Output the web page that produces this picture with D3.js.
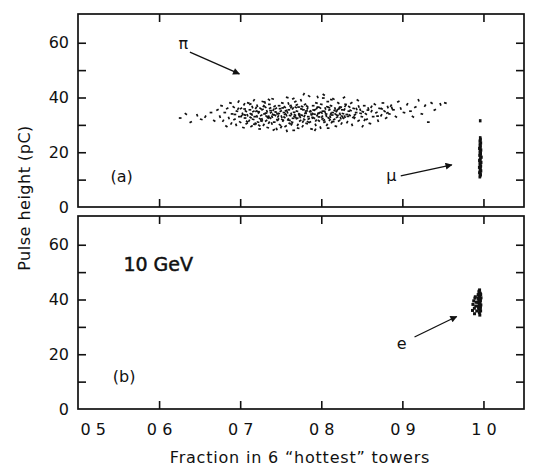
<!DOCTYPE html>
<html>
<head>
<meta charset="utf-8">
<script src="https://cdn.jsdelivr.net/npm/d3@7"></script>
<style>
  html, body { margin: 0; padding: 0; background: #fff; }
  svg { display: block; }
  text { font-family: "DejaVu Sans", sans-serif; fill: #111; }
</style>
</head>
<body>
<script>
// ---------------- data ----------------
const xTicks = [0.5, 0.6, 0.7, 0.8, 0.9, 1.0];
const xTickLabels = ["0 5", "0 6", "0 7", "0 8", "0 9", "1 0"];
const yTicks = [0, 10, 20, 30, 40, 50, 60];
const yTickLabels = ["0", "", "20", "", "40", "", "60"];
const xTitle = "Fraction in 6 “hottest” towers";
const yTitle = "Pulse height (pC)";

// panel (a): pions (fraction, pulse height pC)
const pionPoints = [
  [0.626,32.5],[0.633,34.0],[0.639,31.0],[0.647,33.5],[0.652,32.0],[0.657,33.0],[0.664,34.5],[0.668,31.5],
  [0.672,35.5],[0.675,33.0],[0.677,37.0],[0.679,31.5],[0.681,34.5],[0.683,29.5],[0.684,36.0],[0.686,32.5],[0.688,38.0],[0.689,30.5],[0.690,34.0],
  [0.692,36.5],[0.693,32.0],[0.695,30.0],[0.696,35.0],[0.698,38.5],[0.699,33.0],[0.700,31.0],[0.701,36.0],[0.703,34.0],[0.704,29.0],[0.705,37.5],[0.706,32.5],[0.707,35.0],[0.708,30.5],[0.709,33.5],[0.710,38.0],
  [0.711,31.5],[0.712,35.5],[0.713,34.0],[0.714,29.5],[0.715,36.5],[0.716,32.0],[0.717,39.0],[0.718,33.0],[0.719,30.5],[0.720,35.0],[0.721,37.0],[0.722,31.0],[0.723,34.5],[0.724,28.5],[0.725,36.0],[0.726,33.5],[0.727,32.0],[0.728,38.5],[0.729,30.0],[0.730,34.0],
  [0.731,36.5],[0.732,31.5],[0.733,35.0],[0.734,29.0],[0.735,33.0],[0.736,37.5],[0.737,32.5],[0.738,34.5],[0.739,30.5],[0.740,39.5],[0.741,35.5],[0.742,31.0],[0.743,33.5],[0.744,36.0],[0.745,28.5],[0.746,34.0],[0.747,32.0],[0.748,37.0],[0.749,30.0],[0.750,35.0],
  [0.751,33.0],[0.752,38.0],[0.753,31.5],[0.754,34.5],[0.755,36.5],[0.756,29.5],[0.757,33.5],[0.758,40.0],[0.759,32.0],[0.760,35.5],[0.761,30.5],[0.762,37.0],[0.763,34.0],[0.764,31.0],[0.765,36.0],[0.766,28.0],[0.767,33.0],[0.768,38.5],[0.769,32.5],[0.770,35.0],
  [0.771,30.0],[0.772,36.5],[0.773,34.0],[0.774,31.5],[0.775,39.0],[0.776,33.5],[0.777,29.5],[0.778,35.5],[0.779,32.0],[0.780,37.5],[0.781,34.5],[0.782,30.5],[0.783,36.0],[0.784,33.0],[0.785,40.5],[0.786,31.0],[0.787,35.0],[0.788,28.5],[0.789,34.0],[0.790,37.0],
  [0.791,32.5],[0.792,35.5],[0.793,30.0],[0.794,38.0],[0.795,33.5],[0.796,36.5],[0.797,31.5],[0.798,34.5],[0.799,29.0],[0.800,37.5],[0.801,33.0],[0.802,35.0],[0.803,41.0],[0.804,31.0],[0.805,36.0],[0.806,34.0],[0.807,30.0],[0.808,38.5],[0.809,32.5],[0.810,35.5],
  [0.811,33.0],[0.812,37.0],[0.813,31.0],[0.814,34.5],[0.815,39.5],[0.816,32.0],[0.817,36.0],[0.818,29.5],[0.819,35.0],[0.820,33.5],[0.821,38.0],[0.822,31.5],[0.823,34.0],[0.824,36.5],[0.825,30.5],[0.826,35.5],[0.827,32.5],[0.828,40.0],[0.829,33.0],[0.830,37.5],
  [0.832,31.0],[0.834,35.0],[0.835,33.5],[0.837,38.0],[0.838,30.0],[0.840,36.0],[0.841,32.5],[0.843,34.5],[0.845,39.0],[0.846,31.5],[0.848,35.5],[0.850,33.0],[0.851,29.5],[0.853,37.0],[0.855,34.0],[0.856,32.0],[0.858,36.0],[0.860,30.5],
  [0.862,35.0],[0.864,33.0],[0.866,37.5],[0.868,34.5],[0.870,31.5],[0.872,36.0],[0.874,33.5],[0.876,38.0],[0.878,35.0],[0.880,32.5],[0.882,36.5],[0.884,34.0],[0.886,37.0],[0.889,35.5],[0.892,33.0],[0.895,38.5],[0.898,36.0],
  [0.902,34.5],[0.906,37.5],[0.910,35.0],[0.913,33.0],[0.916,36.5],[0.920,39.0],[0.924,34.0],[0.928,37.0],[0.932,31.0],[0.936,38.0],[0.940,35.5],[0.947,37.5],[0.953,38.0],
  [0.7015,33.2],[0.7055,35.8],[0.7085,31.2],[0.7125,37.6],[0.7145,33.8],[0.7175,30.2],[0.7195,36.2],[0.7225,34.8],[0.7245,32.2],[0.7275,35.6],[0.7305,38.2],[0.7325,33.2],[0.7355,30.8],[0.7375,35.2],[0.7405,33.8],[0.7425,36.8],[0.7455,31.8],[0.7475,34.2],[0.7505,29.2],[0.7525,36.2],
  [0.7545,32.8],[0.7565,35.2],[0.7595,37.8],[0.7615,33.4],[0.7635,30.2],[0.7665,34.6],[0.7685,36.4],[0.7705,32.4],[0.7725,33.6],[0.7755,35.8],[0.7775,31.2],[0.7805,34.2],[0.7825,36.8],[0.7845,32.2],[0.7875,33.8],[0.7905,35.4],[0.7935,31.6],[0.7965,34.2],[0.7985,36.2],[0.8015,32.2],
  [0.8045,34.8],[0.8075,36.6],[0.8105,31.8],[0.8135,33.6],[0.8165,35.2],[0.8195,32.8],[0.8225,36.2],[0.8255,33.2],[0.8285,35.6],[0.8315,33.8],[0.8345,36.6],[0.8395,32.8],[0.8435,35.8],[0.8485,34.2],[0.8535,31.8],[0.8575,35.4],
  [0.7235,29.8],[0.7415,28.2],[0.7575,27.8],[0.7715,28.8],[0.7925,28.2],[0.8085,28.8],[0.7355,39.2],[0.7655,39.6],[0.7955,40.2],[0.8125,39.2],[0.7785,41.2],[0.8025,39.8],
  [0.7128,32.7],[0.7163,34.9],[0.7207,33.1],[0.7262,31.4],[0.7289,36.9],[0.7318,34.3],[0.7341,32.6],[0.7369,36.1],[0.7393,33.0],[0.7437,34.7],[0.7468,33.1],[0.7492,35.9],[0.7519,31.9],[0.7553,33.9],[0.7582,34.6],[0.7607,31.7],[0.7628,36.4],[0.7652,32.4],
  [0.7676,33.6],[0.7698,37.3],[0.7739,32.9],[0.7763,36.7],[0.7792,33.2],[0.7818,35.1],[0.7836,31.1],[0.7861,34.9],[0.7889,32.6],[0.7917,33.9],[0.7946,36.1],[0.7972,32.9],[0.8004,34.4],[0.8033,31.7],[0.8062,33.3],[0.8094,36.3],[0.8118,34.1],[0.8147,31.2],
  [0.8176,33.9],[0.8208,35.7],[0.8239,32.4],[0.8268,34.1],[0.8296,36.9],[0.8329,33.1],[0.8362,35.3],[0.8415,33.7],[0.8462,36.7],[0.8512,34.8],[0.8618,36.6],[0.8694,33.2],[0.8745,35.9],[0.8815,34.4],[0.8872,36.1],[0.7058,33.6],[0.6975,35.9],[0.6935,33.8]
];

// panel (a): muons
const muonPoints = [
  [0.9955,11.0],[0.9965,11.8],[0.9950,12.5],[0.9970,13.2],[0.9958,13.8],[0.9948,14.5],[0.9968,15.0],[0.9955,15.7],
  [0.9972,16.3],[0.9950,17.0],[0.9962,17.6],[0.9975,18.2],[0.9952,18.9],[0.9966,19.5],[0.9956,20.1],[0.9970,20.8],
  [0.9950,21.4],[0.9962,22.0],[0.9958,22.7],[0.9968,23.4],[0.9955,24.1],[0.9962,24.8],[0.9960,31.5],
  [0.9960,11.4],[0.9958,12.9],[0.9962,14.1],[0.9960,16.0],[0.9958,17.3],[0.9962,19.2],[0.9960,21.0],[0.9958,23.0],[0.9960,25.3],
  [0.9960,12.2],[0.9960,13.5],[0.9962,14.8],[0.9958,16.6],[0.9960,18.6],[0.9962,20.4],[0.9958,21.7],[0.9960,22.4],[0.9962,24.4],[0.9960,19.9]
];

// panel (b): electrons
const electronPoints = [
  [0.9945,43.0],[0.9960,42.3],[0.9935,41.8],[0.9955,41.2],[0.9970,40.6],[0.9940,40.1],[0.9962,39.6],[0.9930,39.0],
  [0.9952,38.5],[0.9968,38.0],[0.9938,37.5],[0.9958,37.0],[0.9945,36.4],[0.9965,35.8],[0.9950,35.2],[0.9955,34.3],
  [0.9948,42.6],[0.9960,40.0],[0.9942,38.8],[0.9962,37.3],[0.9950,39.3],[0.9966,41.8],[0.9940,36.9],
  [0.9955,42.0],[0.9945,40.8],[0.9958,38.9],[0.9948,37.9],[0.9960,36.6],[0.9935,40.5],[0.9952,43.5],
  [0.9880,39.5],[0.9870,38.2],[0.9895,40.5],[0.9888,36.8],[0.9905,37.6],[0.9910,39.0],[0.9900,41.0],[0.9865,36.0],[0.9918,35.8],[0.9890,34.8]
];

// annotations (data coordinates)
const panelALabels = [ {text:"π", x:0.624, y:57.8}, {text:"μ", x:0.880, y:9.5}, {text:"(a)", x:0.540, y:9.0} ];
const panelAArrows = [ {x1:0.638, y1:56.6, x2:0.699, y2:48.6}, {x1:0.898, y1:11.4, x2:0.961, y2:15.4} ];
const panelBLabels = [ {text:"(b)", x:0.543, y:9.8}, {text:"e", x:0.893, y:22.0} ];
const panelBArrows = [ {x1:0.915, y1:26.3, x2:0.967, y2:33.8} ];
const energyLabel = {text:"10 GeV", x:0.556, y:50.5};

// ---------------- drawing ----------------
const W = 534, H = 469;
const svg = d3.select("body").append("svg").attr("width", W).attr("height", H);

svg.append("defs").append("marker")
  .attr("id", "arrow").attr("viewBox", "0 0 10 10").attr("refX", 9).attr("refY", 5)
  .attr("markerWidth", 10).attr("markerHeight", 7).attr("markerUnits", "userSpaceOnUse")
  .attr("orient", "auto")
  .append("path").attr("d", "M0,0 L10,5 L0,10 Z").attr("fill", "#111");

const x = d3.scaleLinear().domain([0.5, 1.05]).range([78, 524]);
const yDomain = [0, 70.5];
// series: [points, mark width, mark height, rotate?]
const panels = [
  { y: d3.scaleLinear().domain(yDomain).range([207, 14]), labels: panelALabels, arrows: panelAArrows,
    series: [[pionPoints, 2.7, 1.7, true], [muonPoints, 2.6, 3.2, false]], xLabels: false },
  { y: d3.scaleLinear().domain(yDomain).range([409, 216]), labels: panelBLabels, arrows: panelBArrows,
    series: [[electronPoints, 3.0, 3.0, false]], xLabels: true }
];
const angles = [0, 35, -30, 70, 15, -60];

const TICK = 8;
panels.forEach((p, i) => {
  const g = svg.append("g");
  const y = p.y;
  const [x0, x1] = x.range();
  const [yb, yt] = y.range();

  const left = g.append("g").attr("transform", `translate(${x0},0)`)
    .call(d3.axisLeft(y).tickValues(yTicks).tickSize(-TICK).tickPadding(9)
      .tickFormat((d, k) => yTickLabels[k]));
  const right = g.append("g").attr("transform", `translate(${x1},0)`)
    .call(d3.axisRight(y).tickValues(yTicks.slice(1)).tickSize(-TICK).tickFormat(""));
  const bottom = g.append("g").attr("transform", `translate(0,${yb})`)
    .call(d3.axisBottom(x).tickValues(xTicks).tickSize(-TICK).tickPadding(12)
      .tickFormat((d, k) => p.xLabels ? xTickLabels[k] : ""));
  const top = g.append("g").attr("transform", `translate(0,${yt})`)
    .call(d3.axisTop(x).tickValues(xTicks.slice(1)).tickSize(-TICK).tickFormat(""));

  [left, right, bottom, top].forEach(a => {
    a.select(".domain").remove();
    a.selectAll(".tick line").attr("stroke", "#111").attr("stroke-width", 1.6);
    a.selectAll("text").attr("font-family", "DejaVu Sans, sans-serif").attr("font-size", 16).attr("fill", "#111");
  });
  bottom.selectAll(".tick").filter(d => d === 0.5).select("line").remove();
  if (p.xLabels) {
    bottom.selectAll(".tick text").attr("dy", "0.85em");
    bottom.selectAll(".tick").filter(d => d === 0.5).select("text").attr("text-anchor", "start").attr("dx", 2);
  }
  left.selectAll(".tick").filter(d => d === 0).select("line").remove();

  g.append("rect").attr("x", x0).attr("y", yt).attr("width", x1 - x0).attr("height", yb - yt)
    .attr("fill", "none").attr("stroke", "#111").attr("stroke-width", 1.7);

  p.series.forEach(([s, w, h, rot]) => {
    g.append("g").selectAll("rect").data(s).join("rect")
      .attr("x", -w / 2).attr("y", -h / 2)
      .attr("width", w).attr("height", h)
      .attr("transform", (d, k) => `translate(${x(d[0])},${y(d[1])})` + (rot ? ` rotate(${angles[k % angles.length]})` : ""))
      .attr("fill", "#111");
  });

  g.selectAll("text.lab").data(p.labels).join("text").attr("class", "lab")
    .attr("x", d => x(d.x)).attr("y", d => y(d.y))
    .attr("font-size", 16).text(d => d.text);

  g.selectAll("line.arr").data(p.arrows).join("line").attr("class", "arr")
    .attr("x1", d => x(d.x1)).attr("y1", d => y(d.y1))
    .attr("x2", d => x(d.x2)).attr("y2", d => y(d.y2))
    .attr("stroke", "#111").attr("stroke-width", 1.3).attr("marker-end", "url(#arrow)");

  if (i === 1) {
    g.append("text").attr("x", x(energyLabel.x)).attr("y", y(energyLabel.y))
      .attr("font-size", 19).attr("stroke", "#111").attr("stroke-width", 0.5).text(energyLabel.text);
  }
});

svg.append("text").attr("x", 300).attr("y", 463).attr("text-anchor", "middle")
  .attr("font-size", 16).attr("letter-spacing", 0.8).text(xTitle);
svg.append("text").attr("transform", "translate(30,198) rotate(-90)").attr("text-anchor", "middle")
  .attr("font-size", 16).attr("letter-spacing", 0.5).text(yTitle);
</script>
</body>
</html>
